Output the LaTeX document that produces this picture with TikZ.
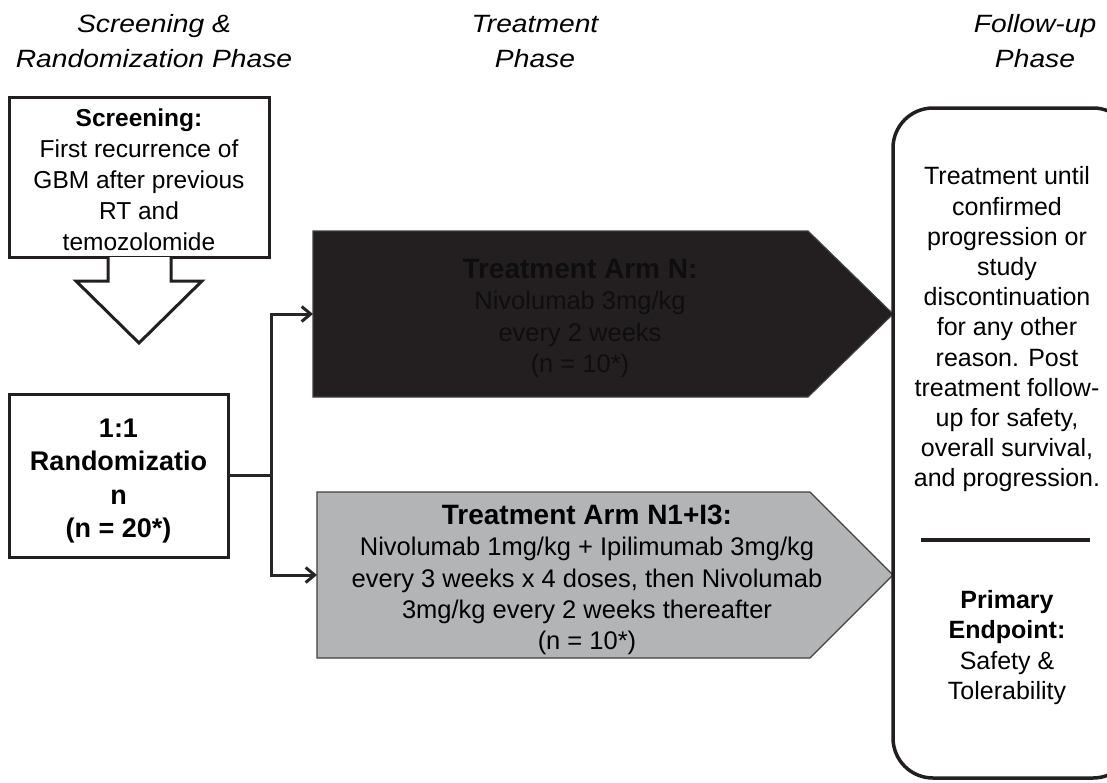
\documentclass[tikz,border=0pt]{standalone}
\usepackage{fontspec}
\setmainfont{Liberation Sans}
\newfontfamily\hdrfont[FakeStretch=1.13]{Liberation Sans}
\usetikzlibrary{arrows.meta,calc}
\definecolor{ink}{HTML}{231F20}
\definecolor{armgray}{HTML}{B3B4B6}
\definecolor{armedge}{HTML}{404040}
\definecolor{conncol}{HTML}{262626}
\definecolor{darktext}{HTML}{0E0E0E}
\begin{document}
\begin{tikzpicture}[x=1pt,y=-1pt,
  box/.style={draw=ink, line width=3pt, inner sep=0pt, outer sep=0pt},
  hdr/.style={font=\hdrfont\itshape\fontsize{25}{35}\selectfont, align=center, inner sep=0pt},
  txt/.style={font=\fontsize{24.5}{31}\selectfont, align=center, inner sep=0pt},
  armtxt/.style={font=\fontsize{25.5}{31.2}\selectfont, align=center, inner sep=0pt},
  frame/.style={inner sep=0pt, outer sep=0pt},
  conn/.style={draw=conncol, line width=3pt},
  tip/.style={-{Straight Barb[length=9pt,width=15pt]}}
]
\useasboundingbox (0,0) rectangle (1107,782);

% phase headers
\node[hdr] (h1) at (154,41.5) {Screening \&\\Randomization Phase};
\node[hdr] (h2) at (535,41.5) {Treatment\\Phase};
\node[hdr] (h3) at (1035,41.5) {Follow-up\\Phase};

% screening box and block arrow
\node[box, minimum width=260pt, minimum height=160pt] (scr) at (139,177) {};
\node[txt] (scrtext) at (139,180) {\textbf{Screening:}\\First recurrence of\\GBM after previous\\RT and\\temozolomide};
\draw[ink, line width=3pt, fill=white, line join=miter]
  (108,257) -- (108,281) -- (76,281) -- (139,343) -- (202,281) -- (171,281) -- (171,257);

% randomization box
\node[box, minimum width=219pt, minimum height=163pt] (rand) at (118.5,475.5) {};
\node[txt, font=\bfseries\fontsize{27}{33.3}\selectfont] (randtext) at (118.5,481) {1:1\\Randomizatio\\n\\(n = 20*)};

% treatment arm N (black)
\node[frame, minimum width=580pt, minimum height=166pt] (armN) at (603,314) {};
\filldraw[fill=ink, draw=armedge, line width=1.2pt]
  (armN.north west) -- (808,231) -- (armN.east) -- (808,397) -- (armN.south west) -- cycle;
\node[armtxt, text=darktext] (armNtext) at (580,318.5)
  {{\bfseries\fontsize{28}{31.2}\selectfont Treatment Arm N:}\\Nivolumab 3mg/kg\\every 2 weeks\\(n = 10*)};

% treatment arm N1+I3 (gray)
\node[frame, minimum width=576pt, minimum height=166pt] (armI) at (605,575) {};
\filldraw[fill=armgray, draw=armedge, line width=1.2pt]
  (armI.north west) -- (810,492) -- (armI.east) -- (810,658) -- (armI.south west) -- cycle;
\node[armtxt] (armItext) at (587,580)
  {{\bfseries\fontsize{28}{31.2}\selectfont Treatment Arm N1+I3:}\\Nivolumab 1mg/kg + Ipilimumab 3mg/kg\\every 3 weeks x 4 doses, then Nivolumab\\3mg/kg every 2 weeks thereafter\\(n = 10*)};

% connectors
\coordinate (split) at (271,475.5);
\draw[conn] (rand.east) -- (split);
\draw[conn, tip] (split) |- (armN.west);
\draw[conn, tip] (split) |- (armI.west);

% follow-up box
\node[draw=ink, line width=3.5pt, rounded corners=40pt, minimum width=240pt, minimum height=670pt, inner sep=0pt] (fu) at (1013,443) {};
\node[txt, font=\fontsize{25}{30.2}\selectfont] (futext) at (1007,329.5)
  {Treatment until\\confirmed\\progression or\\study\\discontinuation\\for any other\\reason. Post\\treatment follow-\\up for safety,\\overall survival,\\and progression.};
\draw[ink, line width=4pt] (921,540) -- (1090,540);
\node[txt, font=\fontsize{25}{30.5}\selectfont] (endp) at (1007,647.5)
  {\textbf{Primary}\\\textbf{Endpoint:}\\Safety \&\\Tolerability};
\end{tikzpicture}
\end{document}
